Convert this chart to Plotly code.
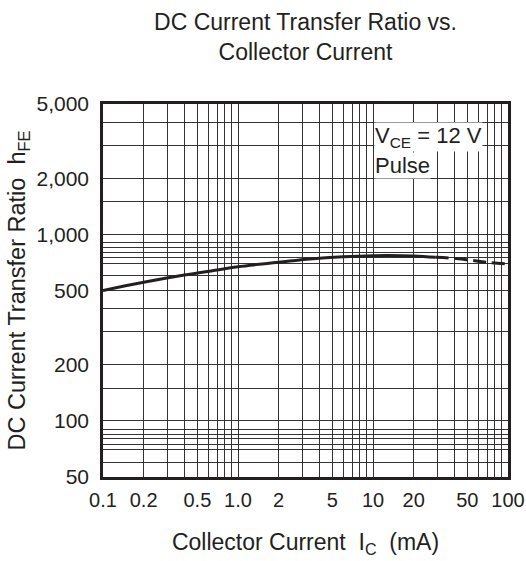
import plotly.graph_objects as go

# Data
ic_solid = [0.1, 0.2, 0.4, 0.7, 1.0, 2, 3.4, 6, 10, 20, 29]
hfe_solid = [500, 553, 605, 644, 671, 708, 738, 759, 769, 766, 753]
ic_dash = [29, 37, 51, 71, 100]
hfe_dash = [753, 747, 729, 708, 694]

x_tickvals = [0.1, 0.2, 0.5, 1, 2, 5, 10, 20, 50, 100]
x_ticktext = ["0.1", "0.2", "0.5", "1.0", "2", "5", "10", "20", "50", "100"]
y_tickvals = [50, 100, 200, 500, 1000, 2000, 5000]
y_ticktext = ["50", "100", "200", "500", "1,000", "2,000", "5,000"]

x_minor = [m * d for d in (0.1, 1, 10) for m in range(1, 10)] + [100]
y_minor = [60, 70, 75, 80, 85, 90, 100, 150, 200, 300, 400, 500, 600,
           700, 750, 800, 850, 900, 1000, 1500, 2000, 3000, 4000, 5000]

FONT = "Liberation Sans, Arial, sans-serif"
INK = "#231f20"

fig = go.Figure()
fig.add_trace(go.Scatter(x=ic_solid, y=hfe_solid, mode="lines",
                         line=dict(color=INK, width=3, shape="spline"),
                         showlegend=False))
fig.add_trace(go.Scatter(x=ic_dash, y=hfe_dash, mode="lines",
                         line=dict(color=INK, width=3, dash="13px,6px", shape="spline"),
                         showlegend=False))

fig.update_xaxes(type="log", range=[-1, 2], tickvals=x_tickvals, ticktext=x_ticktext,
                 showgrid=False, zeroline=False, automargin=False,
                 minor=dict(tickvals=x_minor, showgrid=True, gridcolor="#333333", gridwidth=1, ticks=""),
                 showline=True, linecolor=INK, linewidth=2.5, mirror=True,
                 ticks="", ticklabelstandoff=3,
                 tickfont=dict(family=FONT, size=20, color=INK),
                 title=dict(text="Collector Current  I<sub>C</sub>  (mA)",
                            font=dict(family=FONT, size=23, color=INK), standoff=25))
fig.update_yaxes(type="log", range=[1.69897, 3.69897], tickvals=y_tickvals, ticktext=y_ticktext,
                 showgrid=False, zeroline=False, automargin=False,
                 minor=dict(tickvals=y_minor, showgrid=True, gridcolor="#333333", gridwidth=1, ticks=""),
                 showline=True, linecolor=INK, linewidth=2.5, mirror=True,
                 ticks="", ticklabelstandoff=7,
                 tickfont=dict(family=FONT, size=21, color=INK),
                 title=dict(text="DC Current Transfer Ratio  h<sub>FE</sub>",
                            font=dict(family=FONT, size=23.5, color=INK), standoff=5))

fig.add_annotation(xref="x domain", yref="y domain", x=0.669, y=0.8794, yshift=-3,
                   xanchor="left", yanchor="bottom", showarrow=False,
                   text="V<sub>CE</sub> = 12 V", bgcolor="white", borderpad=0,
                   font=dict(family=FONT, size=22, color=INK), align="left")
fig.add_annotation(xref="x domain", yref="y domain", x=0.669, y=0.8794, yshift=-3,
                   xanchor="left", yanchor="top", showarrow=False,
                   text="Pulse", bgcolor="white", borderpad=0,
                   font=dict(family=FONT, size=22, color=INK), align="left")

fig.update_layout(
    width=526, height=561,
    margin=dict(l=103, r=18, t=104, b=84),
    paper_bgcolor="white", plot_bgcolor="white",
    title=dict(text="DC Current Transfer Ratio vs.<br>Collector Current",
               font=dict(family=FONT, size=23, color=INK),
               x=0.5, xanchor="center", xref="paper",
               yref="container", y=0.947, yanchor="top"),
)

fig.write_html("out.html")
